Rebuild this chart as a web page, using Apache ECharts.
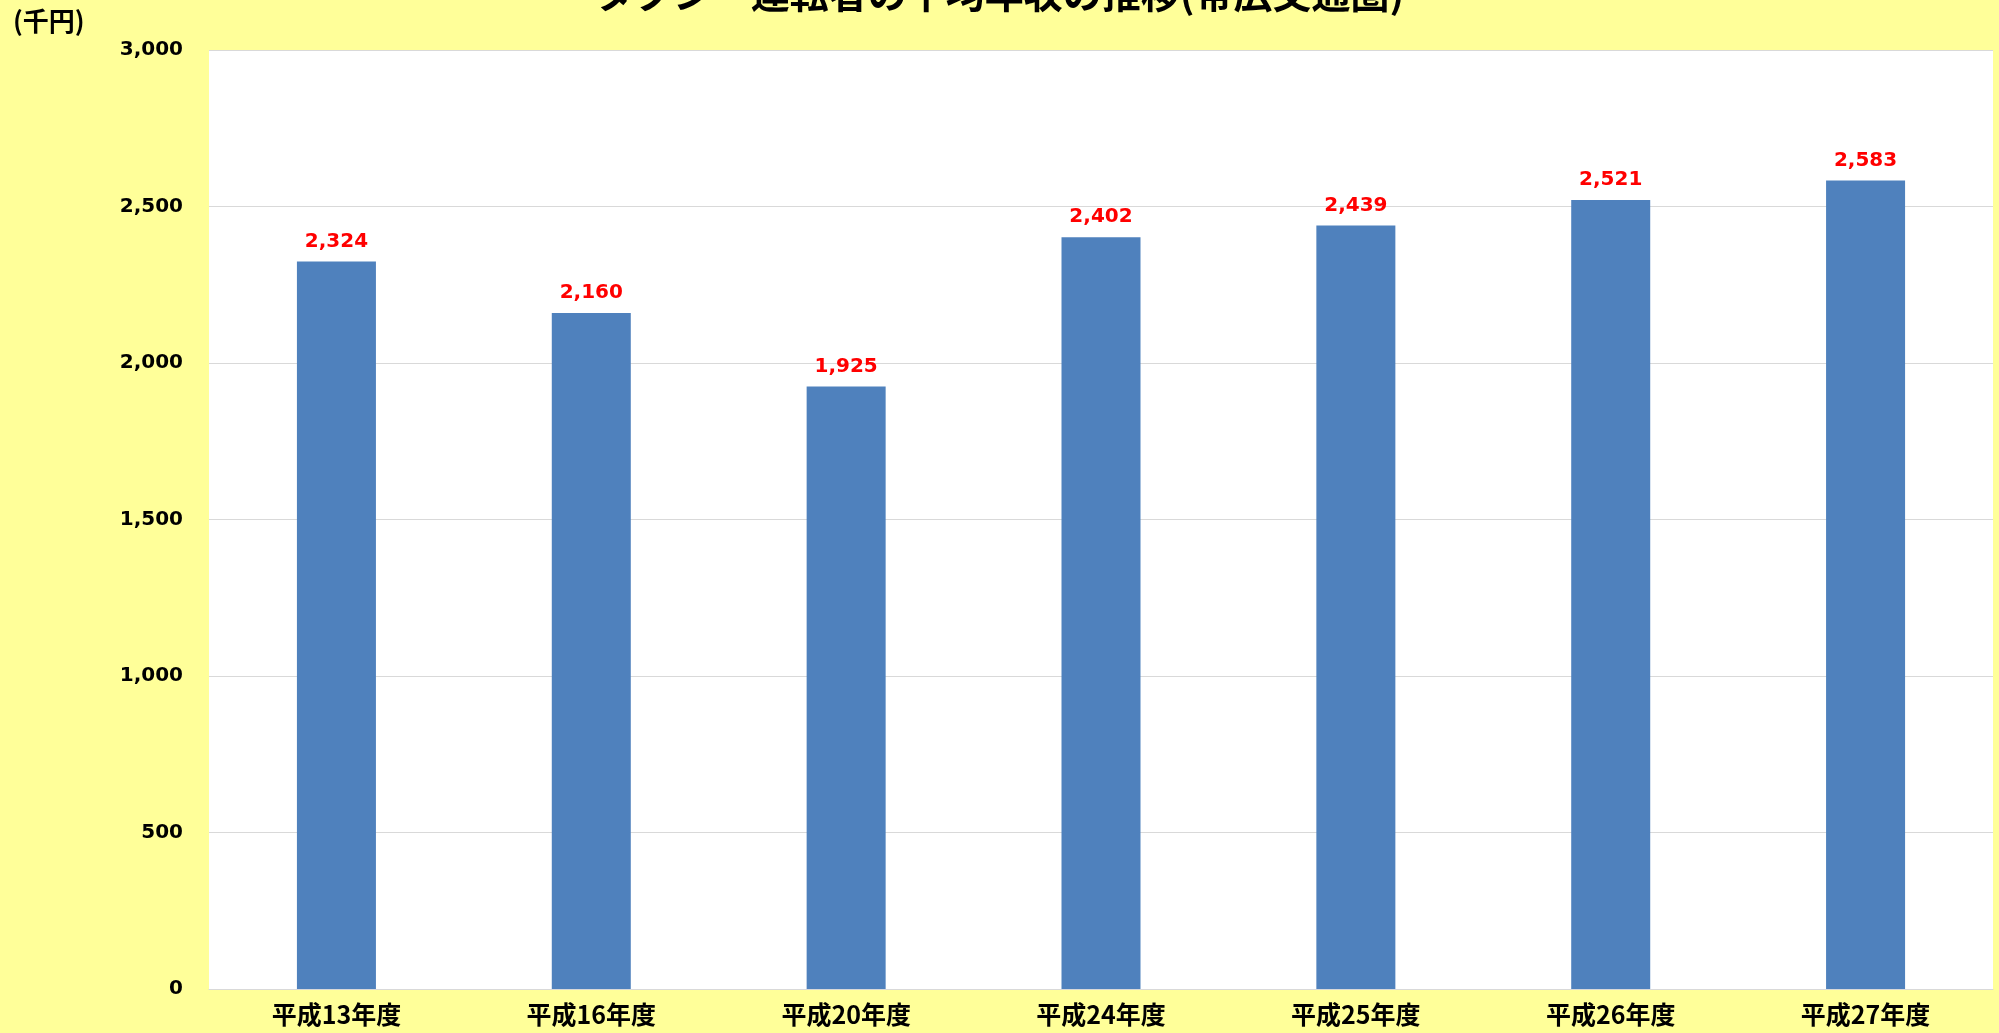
<!DOCTYPE html>
<html>
<head>
<meta charset="utf-8">
<script src="https://cdn.jsdelivr.net/npm/echarts@6/dist/echarts.min.js"></script>
<style>
  html, body { margin: 0; padding: 0; background: #FFFF99; }
  #chart { width: 1999px; height: 1033px; }
</style>
</head>
<body>
<div id="chart"></div>
<script>
// Fiscal years (Heisei era)
const categories = ['平成13年度', '平成16年度', '平成20年度', '平成24年度', '平成25年度', '平成26年度', '平成27年度'];
// Average annual income of taxi drivers, in thousands of yen
const incomes = [2324, 2160, 1925, 2402, 2439, 2521, 2583];
// Value axis range
const yMin = 0;
const yMax = 3000;
const yStep = 500;

const titleText = 'タクシー運転者の平均年収の推移(帯広交通圏)';
const unitText = '(千円)';

const cjk = '"Noto Sans CJK JP", "Noto Sans", sans-serif';
const num = '"DejaVu Sans", Verdana, sans-serif';

const chart = echarts.init(document.getElementById('chart'), null, { renderer: 'canvas' });
chart.setOption({
  backgroundColor: '#FFFF99',
  animation: false,
  title: {
    text: titleText,
    left: 'center',
    top: -31,
    textStyle: { fontFamily: cjk, fontSize: 39, fontWeight: 'bold', color: '#000' }
  },
  graphic: [{
    type: 'text',
    left: 13,
    top: 8,
    style: { text: unitText, font: 'bold 26px ' + cjk, fill: '#000' }
  }],
  grid: {
    left: 209, right: 6, top: 50, bottom: 44,
    show: true, backgroundColor: '#FFFFFF', borderWidth: 0
  },
  xAxis: {
    type: 'category',
    data: categories,
    axisLine: { lineStyle: { color: '#D9D9D9', width: 1 } },
    axisTick: { show: false },
    axisLabel: {
      margin: 13,
      fontFamily: cjk, fontSize: 25, fontWeight: 'bold', color: '#000'
    }
  },
  yAxis: {
    type: 'value',
    min: yMin, max: yMax, interval: yStep,
    axisLine: { show: false },
    axisTick: { show: false },
    splitLine: { lineStyle: { color: '#D9D9D9', width: 1 } },
    axisLabel: {
      margin: 26,
      fontFamily: num, fontSize: 20, fontWeight: 'bold', color: '#000',
      formatter: v => v.toLocaleString('en-US')
    }
  },
  series: [{
    type: 'bar',
    data: incomes,
    barWidth: '31%',
    itemStyle: { color: '#4F81BD' },
    label: {
      show: true,
      position: 'top',
      distance: 10,
      fontFamily: num, fontSize: 20, fontWeight: 'bold', color: '#FF0000',
      formatter: p => p.value.toLocaleString('en-US')
    }
  }]
});
</script>
</body>
</html>
